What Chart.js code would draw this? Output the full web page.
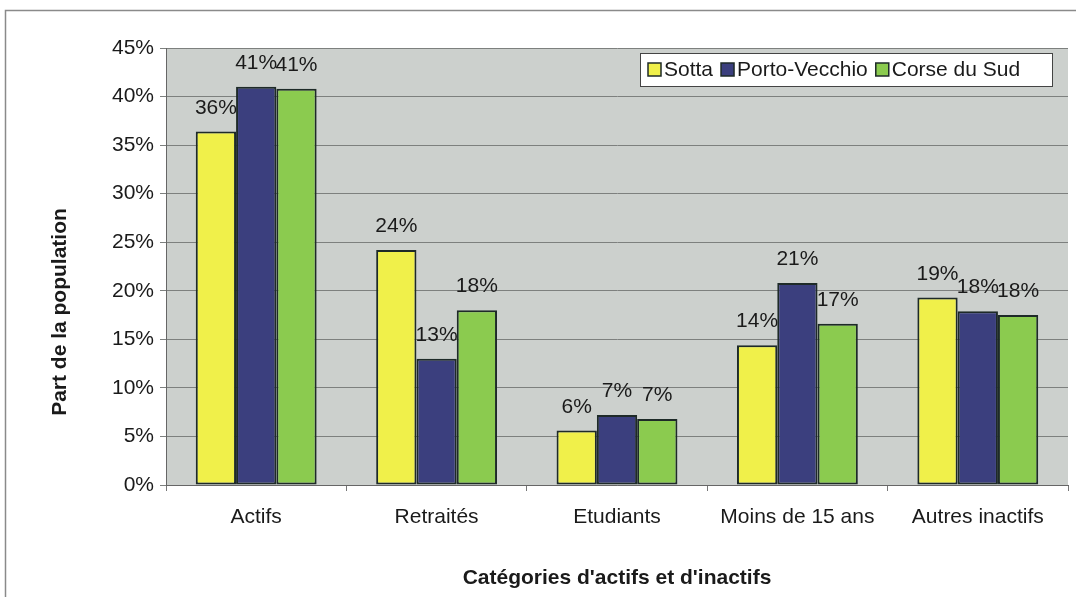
<!DOCTYPE html>
<html>
<head>
<meta charset="utf-8">
<script src="https://cdn.jsdelivr.net/npm/chart.js@4"></script>
<style>
  body { margin: 0; background: #fff; }
  #wrap { width: 1076px; height: 597px; }
</style>
</head>
<body>
<div id="wrap"><canvas id="myChart" width="1076" height="597"></canvas></div>
<script>
const categories = ['Actifs', 'Retraités', 'Etudiants', 'Moins de 15 ans', 'Autres inactifs'];
const sotta = [36.4, 24.2, 5.6, 14.4, 19.3];
const portoVecchio = [41.0, 13.0, 7.2, 20.8, 17.9];
const corseDuSud = [40.8, 18.0, 6.8, 16.6, 17.5];
const yTicks = [0, 5, 10, 15, 20, 25, 30, 35, 40, 45];
const yTitle = 'Part de la population';

const ctx = document.getElementById('myChart');
const font = "Arial, 'Liberation Sans', sans-serif";

// frame + grey plot background + y title (sits lower than centre, like the original)
const backdrop = {
    id: 'backdrop',
    beforeDraw(chart) {
        const c = chart.ctx;
        const a = chart.chartArea;
        c.save();
        c.strokeStyle = '#8a8a8a';
        c.lineWidth = 1.5;
        c.beginPath();
        c.moveTo(5.5, 597);
        c.lineTo(5.5, 10.5);
        c.lineTo(1076, 10.5);
        c.stroke();
        c.fillStyle = '#ccd0cd';
        c.fillRect(a.left, a.top, a.right - a.left, a.bottom - a.top);

        c.translate(60, 312);
        c.rotate(-Math.PI / 2);
        c.font = 'bold 21px ' + font;
        c.fillStyle = '#1a1a1a';
        c.textAlign = 'center';
        c.textBaseline = 'middle';
        c.fillText(yTitle, 0, 0);
        c.restore();
    }
};

// value labels above the bars
const valueLabels = {
    id: 'valueLabels',
    afterDatasetsDraw(chart) {
        const c = chart.ctx;
        c.save();
        c.font = '21px ' + font;
        c.fillStyle = '#1a1a1a';
        c.textAlign = 'center';
        c.textBaseline = 'bottom';
        chart.data.datasets.forEach((ds, i) => {
            chart.getDatasetMeta(i).data.forEach((bar, j) => {
                c.fillText(Math.round(ds.data[j]) + '%', bar.x, bar.y - 13);
            });
        });
        c.restore();
    }
};

// legend box inside the plot, top right
const boxLegend = {
    id: 'boxLegend',
    afterDraw(chart) {
        const c = chart.ctx;
        c.save();
        const x0 = 640, y0 = 53, w = 412, h = 33;
        c.fillStyle = '#ffffff';
        c.fillRect(x0, y0, w, h);
        c.strokeStyle = '#444';
        c.lineWidth = 1;
        c.strokeRect(x0 + 0.5, y0 + 0.5, w, h);
        c.font = '21px ' + font;
        c.textBaseline = 'middle';
        c.textAlign = 'left';
        let x = x0 + 8;
        chart.data.datasets.forEach(ds => {
            c.fillStyle = ds.backgroundColor;
            c.fillRect(x, y0 + 10, 13, 13);
            c.strokeStyle = '#1e2a28';
            c.lineWidth = 1.5;
            c.strokeRect(x, y0 + 10, 13, 13);
            c.fillStyle = '#1a1a1a';
            c.fillText(ds.label, x + 16, y0 + 17);
            x += 16 + c.measureText(ds.label).width + 8;
        });
        c.restore();
    }
};

new Chart(ctx, {
    type: 'bar',
    data: {
        labels: categories,
        datasets: [
            { label: 'Sotta', data: sotta, backgroundColor: '#f0f04a' },
            { label: 'Porto-Vecchio', data: portoVecchio, backgroundColor: '#3b3f7e' },
            { label: 'Corse du Sud', data: corseDuSud, backgroundColor: '#8bcb4f' }
        ].map(d => Object.assign(d, {
            borderColor: '#1e2a28',
            borderWidth: 2,
            borderSkipped: false,
            categoryPercentage: 0.67,
            barPercentage: 1.0
        }))
    },
    options: {
        responsive: false,
        animation: false,
        layout: { padding: { left: 0, top: 48, right: 8, bottom: 0 } },
        plugins: {
            legend: { display: false },
            tooltip: { enabled: false }
        },
        scales: {
            x: {
                afterFit(scale) { scale.height = 112; },
                grid: { display: true, drawOnChartArea: false, tickLength: 6, color: '#777', offset: true },
                border: { color: '#666', width: 1 },
                ticks: { color: '#1a1a1a', font: { size: 21, family: font }, padding: 14 },
                title: {
                    display: true,
                    text: "Catégories d'actifs et d'inactifs",
                    color: '#1a1a1a',
                    font: { size: 21, weight: 'bold', family: font },
                    padding: { top: 0, bottom: 6 }
                }
            },
            y: {
                min: 0,
                max: 45,
                afterFit(scale) { scale.width = 166; },
                afterBuildTicks(scale) { scale.ticks = yTicks.map(v => ({ value: v })); },
                grid: { color: '#7d807e', tickLength: 6 },
                border: { color: '#666', width: 1 },
                ticks: {
                    color: '#1a1a1a',
                    font: { size: 21, family: font },
                    padding: 6,
                    callback: v => v + '%'
                }
            }
        }
    },
    plugins: [backdrop, valueLabels, boxLegend]
});
</script>
</body>
</html>
